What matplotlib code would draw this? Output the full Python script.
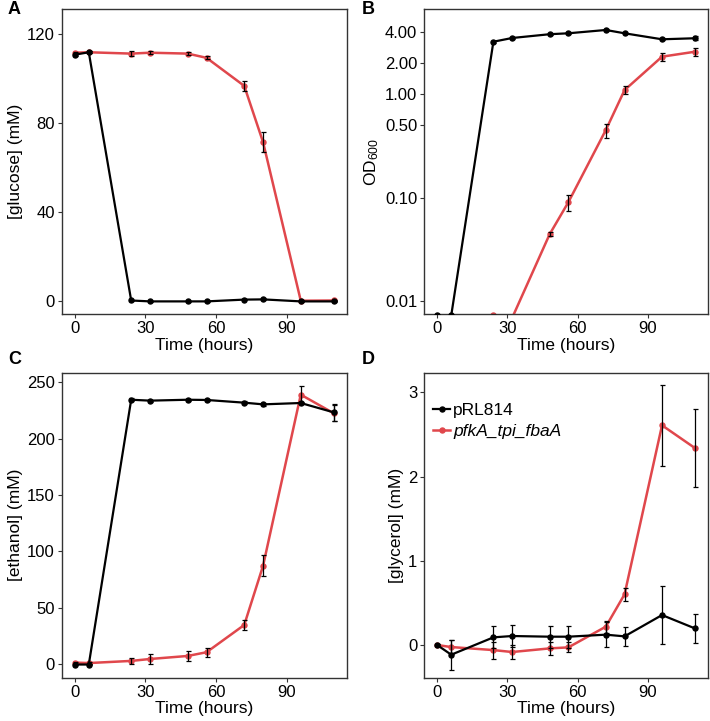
import numpy as np
import matplotlib
matplotlib.use('Agg')
import matplotlib.pyplot as pl
from matplotlib.ticker import FixedLocator, FixedFormatter, NullLocator

pl.rc('font', family='Liberation Sans')
pl.rc('mathtext', fontset='custom', rm='Liberation Sans', it='Liberation Sans:italic')

# sampling times (hours)
hours = [0, 6, 24, 32, 48, 56, 72, 80, 96, 110]

# glucose (mM)
glc_ctrl = [110.6, 111.7, 0.2, -0.2, -0.2, -0.2, 0.6, 0.7, -0.2, -0.2]
glc_ctrl_sd = [0.6, 0.5, 0.4, 0.3, 0.3, 0.3, 0.4, 0.4, 0.3, 0.3]
glc_pfk = [111.5, 111.7, 111.1, 111.5, 111.1, 109.2, 96.6, 71.3, 0.1, 0.2]
glc_pfk_sd = [0.5, 0.4, 1.2, 0.6, 0.5, 0.6, 2.4, 4.4, 0.3, 0.3]

# OD600
od_ctrl = [0.0072, 0.0072, 3.24, 3.52, 3.83, 3.91, 4.21, 3.91, 3.42, 3.50]
od_ctrl_sd = [0.0, 0.0, 0.08, 0.06, 0.06, 0.10, 0.05, 0.06, 0.08, 0.14]
od_pfk = [0.005, 0.005, 0.0073, 0.0068, 0.044, 0.090, 0.451, 1.10, 2.32, 2.59]
od_pfk_sd = [0.0, 0.0, 0.0, 0.0, 0.002, 0.016, 0.07, 0.1, 0.22, 0.22]

# ethanol (mM)
eth_ctrl = [-0.5, -0.5, 234.5, 233.7, 234.5, 234.3, 231.9, 230.4, 231.6, 223.3]
eth_ctrl_sd = [0.8, 0.8, 1.2, 1.0, 1.0, 1.0, 1.2, 1.2, 1.0, 7.5]
eth_pfk = [1.2, 0.8, 2.7, 4.4, 7.1, 10.4, 34.6, 87.2, 239.0, 222.5]
eth_pfk_sd = [0.8, 0.8, 3.0, 4.5, 4.2, 3.9, 4.6, 9.5, 7.5, 7.0]

# glycerol (mM)
gly_ctrl = [0.0, -0.115, 0.091, 0.107, 0.099, 0.099, 0.123, 0.103, 0.356, 0.198]
gly_ctrl_sd = [0.01, 0.18, 0.13, 0.13, 0.13, 0.13, 0.15, 0.11, 0.34, 0.17]
gly_pfk = [0.0, -0.024, -0.06, -0.083, -0.04, -0.028, 0.218, 0.602, 2.609, 2.34]
gly_pfk_sd = [0.01, 0.08, 0.1, 0.08, 0.08, 0.06, 0.07, 0.08, 0.48, 0.46]

labels = ['pRL814', 'pfkA_tpi_fbaA']
ctrl_color = 'black'
pfk_color = '#E0474C'

W, H = 710, 721
fig = pl.figure(figsize=(W / 100, H / 100), dpi=100)

def ax_at(x0, y0, x1, y1):
    return fig.add_axes([x0 / W, 1 - y1 / H, (x1 - x0) / W, (y1 - y0) / H])

ax_a = ax_at(61.7, 9.3, 346.7, 314.3)
ax_b = ax_at(424.3, 9.3, 707.7, 314.3)
ax_c = ax_at(61.7, 372.7, 346.7, 677.7)
ax_d = ax_at(424.3, 372.7, 707.7, 677.7)

def draw(ax, ctrl, ctrl_sd, pfk, pfk_sd):
    h2, = ax.plot(hours, pfk, '-o', color=pfk_color, lw=1.8, ms=3.6, zorder=2)
    h1, = ax.plot(hours, ctrl, '-o', color=ctrl_color, lw=1.6, ms=3.6, zorder=3)
    ax.errorbar(hours, pfk, yerr=pfk_sd, fmt='none', ecolor='black',
                elinewidth=0.9, capsize=1.8, capthick=0.9, zorder=4)
    ax.errorbar(hours, ctrl, yerr=ctrl_sd, fmt='none', ecolor='black',
                elinewidth=0.9, capsize=1.8, capthick=0.9, zorder=4)
    ax.set_xlim(-5.5, 115.5)
    ax.set_xticks([0, 30, 60, 90])
    ax.set_xlabel('Time (hours)', fontsize=12.5, labelpad=1)
    ax.tick_params(labelsize=12, length=3, width=0.8, color='#333333', pad=2)
    for s in ax.spines.values():
        s.set_linewidth(1.0)
        s.set_color('#333333')
    return h1, h2

draw(ax_a, glc_ctrl, glc_ctrl_sd, glc_pfk, glc_pfk_sd)
ax_a.set_ylim(-6, 131)
ax_a.set_yticks([0, 40, 80, 120])
ax_a.set_ylabel('[glucose] (mM)', fontsize=12.5, labelpad=3)

draw(ax_b, od_ctrl, od_ctrl_sd, od_pfk, od_pfk_sd)
ax_b.set_yscale('log')
ax_b.set_ylim(0.00738, 6.68)
od_ticks = [0.01, 0.10, 0.50, 1.00, 2.00, 4.00]
ax_b.yaxis.set_major_locator(FixedLocator(od_ticks))
ax_b.yaxis.set_major_formatter(FixedFormatter(['%.2f' % t for t in od_ticks]))
ax_b.yaxis.set_minor_locator(NullLocator())
ax_b.set_ylabel(r'OD$_{600}$', fontsize=12.5, labelpad=3)

draw(ax_c, eth_ctrl, eth_ctrl_sd, eth_pfk, eth_pfk_sd)
ax_c.set_ylim(-12.2, 258.5)
ax_c.set_yticks([0, 50, 100, 150, 200, 250])
ax_c.set_ylabel('[ethanol] (mM)', fontsize=12.5, labelpad=3)

h1, h2 = draw(ax_d, gly_ctrl, gly_ctrl_sd, gly_pfk, gly_pfk_sd)
ax_d.set_ylim(-0.388, 3.234)
ax_d.set_yticks([0, 1, 2, 3])
ax_d.set_ylabel('[glycerol] (mM)', fontsize=12.5, labelpad=3)
leg = ax_d.legend([h1, h2], labels, loc='upper left', frameon=False,
                  fontsize=12.5, handlelength=1.0, handletextpad=0.15,
                  borderaxespad=0.1, labelspacing=0.35,
                  bbox_to_anchor=(0.0, 0.93))
leg.get_texts()[1].set_style('italic')

for lab, (x, y) in zip('ABCD', [(8, 10), (362, 10), (8, 360), (362, 360)]):
    fig.text(x / W, 1 - y / H, lab, fontsize=13, fontweight='bold',
             ha='left', va='center')

fig.savefig('out.png', dpi=100)
